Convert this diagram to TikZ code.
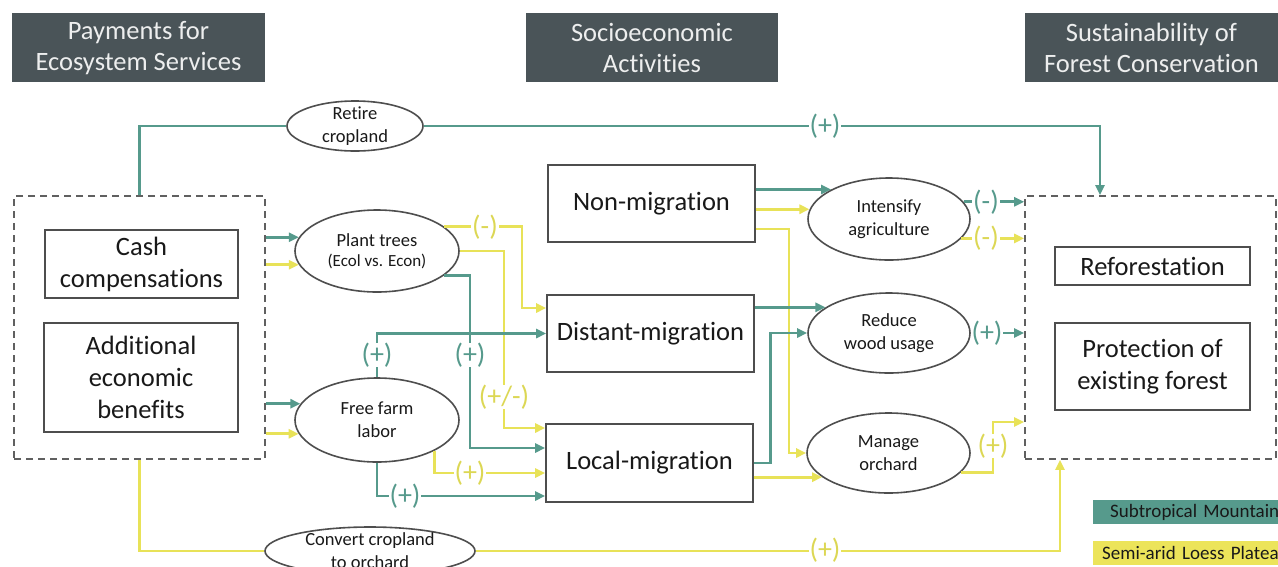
\documentclass[tikz,border=0pt]{standalone}
\usepackage{fontspec}
\setmainfont{Carlito}[Ligatures=NoCommon]
\usetikzlibrary{arrows.meta,shapes.geometric,calc}
\definecolor{tealc}{RGB}{86,154,140}
\definecolor{yelc}{RGB}{232,226,88}
\definecolor{legy}{RGB}{236,228,90}
\definecolor{hdr}{RGB}{74,84,88}
\definecolor{edgec}{RGB}{78,78,78}
\definecolor{txt}{RGB}{25,25,25}
\begin{document}
\begin{tikzpicture}[x=1pt,y=-1pt,
  hdrbox/.style={rectangle, fill=hdr, text=white!90!hdr, font=\fontsize{26.5}{31}\selectfont, align=center, inner sep=0pt, minimum height=69pt},
  box/.style={rectangle, draw=edgec, line width=1.6pt, fill=white, text=txt, align=center, font=\fontsize{26.5}{32}\selectfont, inner sep=0pt},
  dashbox/.style={rectangle, draw=edgec!90, line width=1.7pt, dash pattern=on 7pt off 5pt, inner sep=0pt},
  oval/.style={ellipse, draw=edgec, line width=1.6pt, fill=white, text=txt, align=center, font=\fontsize{18.5}{23}\selectfont, inner sep=0pt},
  ovaltext/.style={font=\fontsize{18.5}{23}\selectfont, align=center, text=txt, inner sep=0pt},
  gline/.style={draw=tealc, line width=2.8pt},
  yline/.style={draw=yelc, line width=2.8pt},
  arr/.style={-{Triangle[length=10pt,width=9pt]}},
  lab/.style={fill=white, inner xsep=1pt, inner ysep=0pt, font=\fontsize{28}{28}\selectfont},
  glab/.style={lab, text=tealc},
  ylab/.style={lab, text=yelc!95!black},
  legbox/.style={rectangle, anchor=north west, inner xsep=0pt, inner ysep=0pt, minimum height=24pt, text width=200pt, align=left, font=\fontsize{19}{22}\selectfont, text=txt}
]
\useasboundingbox (0,0) rectangle (1278,566);
\clip (0,0) rectangle (1278,566);
\fill[white] (0,0) rectangle (1278,566);

% headers
\node[hdrbox, minimum width=253pt] (h1) at (138.5,47.5) {\rule{0pt}{20pt}Payments for\\Ecosystem Services};
\node[hdrbox, minimum width=252pt] (h2) at (652,47.5) {Socioeconomic\\Activities};
\node[hdrbox, minimum width=253pt] (h3) at (1151.5,47.5) {Sustainability of\\Forest Conservation};

% left group
\node[dashbox, minimum width=251pt, minimum height=263pt] (pes) at (139.5,327.5) {};
\node[box, minimum width=193pt, minimum height=68pt] (cash) at (141.5,264) {Cash\\compensations};
\node[box, minimum width=194pt, minimum height=109pt] (add) at (141,377.5) {Additional\\economic\\benefits};

% right group
\node[dashbox, minimum width=251pt, minimum height=263pt] (sfc) at (1150.5,327.5) {};
\node[box, minimum width=195pt, minimum height=38pt] (ref) at (1152.5,266) {Reforestation};
\node[box, minimum width=195pt, minimum height=87pt] (prot) at (1152.5,366.5) {Protection of\\existing forest};

% middle boxes
\node[box, minimum width=207pt, minimum height=77pt] (nm) at (651.5,203.5) {Non-migration};
\node[box, minimum width=207pt, minimum height=77pt] (dm) at (650.5,333.5) {Distant-migration};
\node[box, minimum width=207pt, minimum height=78pt] (lm) at (649.5,463) {Local-migration};

% ellipses
\node[oval, minimum width=136pt, minimum height=50pt, label={[ovaltext]center:Retire\\cropland}] (rc) at (355,126) {};
\node[oval, minimum width=164pt, minimum height=82pt] (pt) at (377,251) {Plant trees\\[-3pt]{\fontsize{17}{20}\selectfont (Ecol vs. Econ)}};
\node[oval, minimum width=164pt, minimum height=84pt] (ff) at (377,420) {Free farm\\labor};
\node[oval, minimum width=162pt, minimum height=82pt] (ia) at (889,219) {Intensify\\agriculture};
\node[oval, minimum width=162pt, minimum height=80pt] (rw) at (889,333) {Reduce\\wood usage};
\node[oval, minimum width=163pt, minimum height=80pt] (mo) at (888.5,453) {Manage\\orchard};
\node[oval, minimum width=210pt, minimum height=48pt, label={[ovaltext]center:Convert cropland\\to orchard}] (cc) at (370,551) {};

% legend
\node[legbox, fill=tealc] (lg1) at (1093,500) {\hspace*{17pt}Subtropical Mountain};
\node[legbox, fill=legy] (lg2) at (1093,541) {\hspace*{9pt}Semi-arid Loess Plateau};

% long connectors
\draw[gline] (pes.north) |- (rc.west);
\draw[gline, arr] (rc.east) -| ([xshift=-50.5pt]sfc.north);
\draw[yline] (pes.south) |- (cc.west);
\draw[yline, arr] (cc.east) -| ([xshift=-90.5pt]sfc.south);

% PES -> ellipses
\draw[gline, arr] (pes.east |- pt.170) -- (pt.170);
\draw[yline, arr] (pes.east |- pt.190) -- (pt.190);
\draw[gline, arr] (pes.east |- ff.168) -- (ff.168);
\draw[yline, arr] (pes.east |- ff.190) -- (ff.190);

% plant trees outputs
\draw[yline, arr] (pt.20) -| (522,308) -- ([yshift=25.5pt]dm.west);
\draw[yline, arr] (pt.east) -| (504,428) -- ([yshift=35pt]lm.west);
\draw[gline, arr] (pt.-20) -| (470,448) -- ([yshift=15pt]lm.west);

% free farm labor outputs
\draw[gline, arr] (ff.north) |- (dm.west);
\draw[yline, arr] (ff.-28) |- ([yshift=-10pt]lm.west);
\draw[gline, arr] (ff.south) |- ([yshift=-33pt]lm.west);

% migration outputs
\draw[gline, arr] (nm.east |- ia.153) -- (ia.153);
\draw[yline, arr] (nm.east |- ia.173) -- (ia.173);
\draw[yline, arr] ([yshift=-25.5pt]nm.east) -| (789,453) -- (mo.west);
\draw[gline, arr] (dm.east |- rw.158) -- (rw.158);
\draw[gline, arr] (lm.east) -| ([xshift=-37pt]rw.west) -- (rw.west);
\draw[yline, arr] (lm.east |- mo.200) -- (mo.200);

% activity outputs
\draw[gline, arr] (ia.13) -- (ia.13 -| sfc.west);
\draw[yline, arr] (ia.-15) -- (ia.-15 -| sfc.west);
\draw[gline, arr] (rw.east) -- (rw.east -| sfc.west);
\draw[yline, arr] (mo.-15) -| (993,422) -- ([yshift=-94.5pt]sfc.west);

% sign labels
\node[glab] (l1) at (825,126) {(+)};
\node[ylab] (l2) at (825,550) {(+)};
\node[ylab] (l3) at (485,227) {(-)};
\node[ylab] (l4) at (504,397) {(+/-)};
\node[glab] (l5) at (470,355) {(+)};
\node[glab] (l6) at (377,355) {(+)};
\node[ylab] (l7) at (470,473) {(+)};
\node[glab] (l8) at (405,496) {(+)};
\node[glab] (l9) at (986,202) {(-)};
\node[ylab] (l10) at (986,238) {(-)};
\node[glab] (l11) at (987,333) {(+)};
\node[ylab] (l12) at (993,446) {(+)};
\end{tikzpicture}
\end{document}
